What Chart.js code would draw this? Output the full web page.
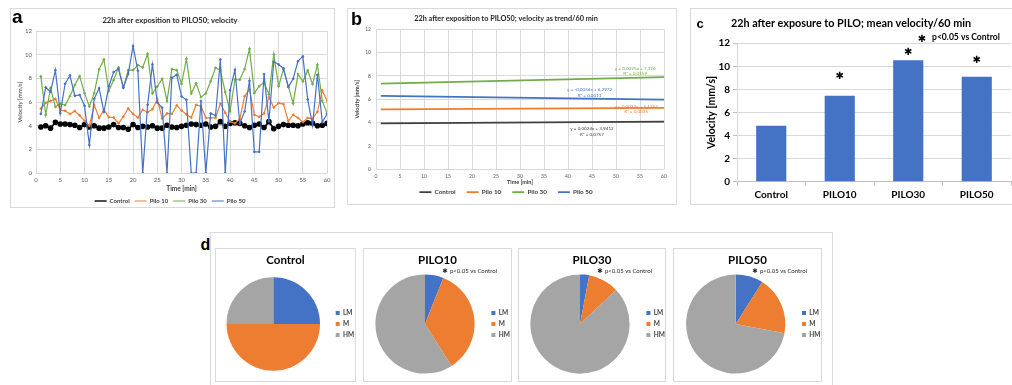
<!DOCTYPE html>
<html>
<head>
<meta charset="utf-8">
<script src="https://cdn.jsdelivr.net/npm/chart.js@4.4.0/dist/chart.umd.min.js"></script>
<style>
  body { margin: 0; width: 1012px; height: 385px; overflow: hidden; background: #fff; position: relative; }
  .box { position: absolute; border: 1px solid #d9d9d9; box-sizing: border-box; background: #fff; }
  .box canvas { position: absolute; left: 0; top: 0; }
  .tag { position: absolute; font-family: "Liberation Sans", Arial, sans-serif; font-weight: bold; line-height: 1; color: #000; }
</style>
</head>
<body>

<div class="box" style="left:210px;top:232px;width:623px;height:170px"></div>

<div class="box" style="left:10px;top:8px;width:325px;height:200px"><canvas id="chartA" width="323" height="198"></canvas></div>
<div class="box" style="left:347px;top:8px;width:330px;height:197px"><canvas id="chartB" width="328" height="195"></canvas></div>
<div class="box" style="left:690px;top:8px;width:332px;height:197px"><canvas id="chartC" width="330" height="195"></canvas></div>

<div class="box" style="left:215px;top:248px;width:141px;height:134px"><canvas id="pieControl" width="139" height="132"></canvas></div>
<div class="box" style="left:363px;top:248px;width:149px;height:134px"><canvas id="pie10" width="147" height="132"></canvas></div>
<div class="box" style="left:518px;top:248px;width:148px;height:134px"><canvas id="pie30" width="146" height="132"></canvas></div>
<div class="box" style="left:673px;top:248px;width:149px;height:134px"><canvas id="pie50" width="147" height="132"></canvas></div>

<span class="tag" style="left:12px;top:7px;font-size:19px">a</span>
<span class="tag" style="left:351px;top:9.5px;font-size:18px">b</span>
<span class="tag" style="left:696.5px;top:16.5px;font-size:13px">c</span>
<span class="tag" style="left:200.5px;top:236.5px;font-size:16px">d</span>

<script>
// ---- panel a: velocity per minute ----
const minutes = [1, 2, 3, 4, 5, 6, 7, 8, 9, 10, 11, 12, 13, 14, 15, 16, 17, 18, 19, 20,
  21, 22, 23, 24, 25, 26, 27, 28, 29, 30, 31, 32, 33, 34, 35, 36, 37, 38, 39, 40,
  41, 42, 43, 44, 45, 46, 47, 48, 49, 50, 51, 52, 53, 54, 55, 56, 57, 58, 59, 60];
const controlVel = [3.9, 4.0, 3.8, 4.3, 4.15, 4.15, 4.1, 4.05, 3.85, 4.1, 3.9, 4.0, 3.8, 3.8, 3.9, 4.1, 3.85, 3.85, 3.7, 4.1,
  3.85, 3.95, 3.9, 4.0, 3.8, 3.8, 4.05, 3.9, 3.85, 3.95, 4.05, 4.15, 4.1, 4.05, 4.15, 3.9, 3.95, 4.35, 3.95, 4.2,
  4.25, 4.2, 4.0, 3.85, 4.05, 4.15, 3.85, 4.35, 3.75, 3.95, 4.1, 4.05, 4.05, 4.0, 4.15, 4.25, 4.2, 4.0, 4.05, 4.2];
const pilo10Vel = [5.46, 5.94, 6.1, 6.28, 5.3, 5.27, 5.0, 5.25, 4.87, 4.42, 4.0, 5.75, 4.67, 5.35, 4.73, 4.7, 4.22, 4.76, 5.46, 5.0,
  4.7, 5.35, 5.15, 5.4, 6.25, 4.62, 5.04, 5.0, 5.72, 5.3, 4.96, 4.7, 5.77, 5.66, 4.67, 4.67, 4.67, 5.88, 5.1, 4.34,
  4.2, 4.56, 6.5, 7.07, 4.93, 4.76, 5.04, 6.42, 5.55, 5.92, 5.83, 4.4, 4.93, 4.67, 4.31, 4.67, 4.6, 5.18, 7.0, 6.1];
const pilo30Vel = [8.17, 4.93, 7.18, 5.6, 5.86, 5.75, 6.5, 7.44, 8.2, 6.76, 5.63, 6.76, 8.76, 9.6, 6.93, 7.86, 8.93, 7.2, 8.7, 8.7,
  9.13, 8.93, 10.08, 6.73, 7.32, 7.97, 6.1, 8.79, 8.7, 7.55, 9.66, 6.73, 7.58, 6.42, 6.73, 7.77, 8.9, 8.7, 6.85, 5.24,
  7.89, 7.89, 8.79, 10.5, 6.76, 7.35, 7.66, 6.65, 10.03, 7.35, 8.79, 7.35, 5.89, 8.37, 7.75, 8.68, 7.52, 9.15, 6.1, 5.04];
const pilo50Vel = [5.0, 7.24, 6.87, 8.7, 5.07, 7.55, 8.25, 6.54, 6.6, 5.69, 2.37, 6.28, 7.18, 5.18, 7.32, 8.54, 8.82, 7.24, 8.37, 10.73,
  8.65, 0, 5.77, 9.18, 5.97, 5.52, 0, 8.06, 8.31, 6.48, 6.2, 0, 0, 6.1, 0, 5.04, 4.87, 9.6, 0, 7.01,
  8.73, 4.17, 5.21, 7.8, 1.8, 1.8, 8.37, 4.37, 9.41, 9.18, 8.85, 7.27, 7.97, 9.46, 9.86, 6.23, 4.03, 8.31, 4.31, 5.0];

// ---- panel b: linear trends (values at minute 1 and 60) ----
const trendMinutes = [1, 60];
const controlTrend = [3.94, 4.09];
const pilo10Trend = [5.13, 5.26];
const pilo30Trend = [7.34, 7.90];
const pilo50Trend = [6.29, 5.97];
const trendEquations = ['y = 0,0024x + 3,9412', 'y = 0,0023x + 5,1257', 'y = 0,0095x + 7,326', 'y = -0,0054x + 6,2972'];
const trendR2 = ['R² = 0,0757', 'R² = 0,0035', 'R² = 0,0159', 'R² = 0,0011'];

// ---- panel c: mean velocity ----
const groups = ['Control', 'PILO10', 'PILO30', 'PILO50'];
const meanVelocity = [4.85, 7.46, 10.52, 9.1];
const significant = [false, true, true, true];

// ---- panel d: movement classes ----
const pieLabels = ['LM', 'M', 'HM'];
const controlShare = [25, 50, 25];
const pilo10Share = [6, 35, 59];
const pilo30Share = [3, 10, 87];
const pilo50Share = [9, 19, 72];

const seriesNames = ['Control', 'Pilo 10', 'Pilo 30', 'Pilo 50'];
const seriesColors = ['#000000', '#ED7D31', '#70AD47', '#4472C4'];
const pieColors = ['#4472C4', '#ED7D31', '#A5A5A5'];

Chart.defaults.font.family = 'Lato';
Chart.defaults.color = '#595959';

// panel a
new Chart(document.getElementById('chartA'), {
  type: 'line',
  data: {
    labels: minutes,
    datasets: [controlVel, pilo10Vel, pilo30Vel, pilo50Vel].map((vals, i) => ({
      label: seriesNames[i],
      data: vals,
      borderColor: seriesColors[i],
      backgroundColor: seriesColors[i],
      borderWidth: i === 0 ? 1.6 : 1.2,
      pointRadius: i === 0 ? 2.1 : 0.9,
      pointBorderWidth: i === 0 ? 1.4 : 1,
      order: 4 - i
    }))
  },
  options: {
    responsive: false,
    animation: false,
    layout: { padding: { left: 0, right: 5, top: 0, bottom: 2 } },
    plugins: {
      title: {
        display: true, text: '22h after exposition to PILO50; velocity', color: '#262626',
        font: { size: 7.6, weight: 'bold' }, padding: { top: 7, bottom: 6 }
      },
      legend: {
        position: 'bottom', maxHeight: 12,
        labels: { usePointStyle: true, pointStyle: 'line', pointStyleWidth: 12, padding: 5, color: '#404040',
          font: { size: 6, weight: 'bold' }, sort: (a, b) => a.datasetIndex - b.datasetIndex }
      },
      tooltip: { enabled: false }
    },
    scales: {
      x: {
        type: 'linear', min: 0, max: 60,
        ticks: { stepSize: 5, padding: 3.4, font: { size: 6 } },
        grid: { color: '#d9d9d9', drawTicks: false },
        border: { display: false },
        title: { display: true, text: 'Time [min]', color: '#404040', font: { size: 6.5, weight: 'bold' }, padding: 0 },
        afterFit: s => { s.height = 19.9; }
      },
      y: {
        min: 0, max: 12,
        ticks: { stepSize: 2, padding: 4, font: { size: 6 } },
        grid: { color: '#d9d9d9', drawTicks: false },
        border: { display: false },
        title: { display: true, text: 'Velocity [mm/s]', color: '#404040', font: { size: 6 }, padding: { top: 5, bottom: 0 } },
        afterFit: s => { s.width = 25; }
      }
    }
  }
});

// panel b: equations next to the trend lines
const notePos = [
  { x: 45, y: [3.48, 2.94] },
  { x: 54.2, y: [5.42, 4.94] },
  { x: 54, y: [8.65, 8.17] },
  { x: 44.5, y: [6.82, 6.31] }
];
const trendLabelPlugin = {
  id: 'trendLabels',
  afterDatasetsDraw(chart) {
    const { ctx, scales: { x, y } } = chart;
    ctx.save();
    ctx.font = '4.6px Lato';
    ctx.textAlign = 'center';
    ctx.textBaseline = 'middle';
    notePos.forEach((p, i) => {
      ctx.fillStyle = i === 0 ? '#404040' : seriesColors[i];
      ctx.fillText(trendEquations[i], x.getPixelForValue(p.x), y.getPixelForValue(p.y[0]));
      ctx.fillText(trendR2[i], x.getPixelForValue(p.x), y.getPixelForValue(p.y[1]));
    });
    ctx.restore();
  }
};

new Chart(document.getElementById('chartB'), {
  type: 'line',
  data: {
    labels: trendMinutes,
    datasets: [controlTrend, pilo10Trend, pilo30Trend, pilo50Trend].map((vals, i) => ({
      label: seriesNames[i],
      data: vals,
      borderColor: i === 0 ? '#404040' : seriesColors[i],
      backgroundColor: i === 0 ? '#404040' : seriesColors[i],
      borderWidth: 1.8,
      pointRadius: 0
    }))
  },
  options: {
    responsive: false,
    animation: false,
    layout: { padding: { left: 0, right: 12, top: 0, bottom: 0 } },
    plugins: {
      title: {
        display: true, text: '22h after exposition to PILO50; velocity as trend/60 min', color: '#262626',
        font: { size: 7.3, weight: 'bold' }, padding: { top: 5.6, bottom: 5.9 }
      },
      legend: {
        position: 'bottom', maxHeight: 26,
        labels: { usePointStyle: true, pointStyle: 'line', pointStyleWidth: 12, padding: 11, color: '#404040',
          font: { size: 6.3, weight: 'bold' } }
      },
      tooltip: { enabled: false }
    },
    scales: {
      x: {
        type: 'linear', min: 0, max: 60,
        ticks: { stepSize: 5, padding: 4, font: { size: 5 } },
        grid: { color: '#d9d9d9', drawTicks: false },
        border: { display: false },
        title: { display: true, text: 'Time [min]', color: '#404040', font: { size: 5.5, weight: 'bold' }, padding: { top: 0, bottom: -8 } },
        afterFit: s => { s.height = 8.7; }
      },
      y: {
        min: 0, max: 12,
        ticks: { stepSize: 2, padding: 5, font: { size: 5 } },
        grid: { color: '#d9d9d9', drawTicks: false },
        border: { display: false },
        title: { display: true, text: 'Velocity [mm/s]', color: '#404040', font: { size: 5.5, weight: 'bold' }, padding: { top: 6, bottom: 0 } },
        afterFit: s => { s.width = 28; }
      }
    }
  },
  plugins: [trendLabelPlugin]
});

// panel c
const starY = [0, 9.1, 11.2, 10.5];
const starPlugin = {
  id: 'stars',
  afterDatasetsDraw(chart) {
    const { ctx, scales: { y } } = chart;
    const bars = chart.getDatasetMeta(0).data;
    ctx.save();
    ctx.fillStyle = '#000';
    ctx.textAlign = 'center';
    ctx.textBaseline = 'middle';
    ctx.font = '10px "DejaVu Sans"';
    bars.forEach((bar, i) => {
      if (significant[i]) ctx.fillText('✱', bar.x, y.getPixelForValue(starY[i]));
    });
    ctx.fillText('✱', 231, 30);
    ctx.textAlign = 'left';
    ctx.font = 'bold 8.6px Lato';
    ctx.fillText('p<0.05 vs Control', 241, 28);
    ctx.restore();
  }
};

new Chart(document.getElementById('chartC'), {
  type: 'bar',
  data: {
    labels: groups,
    datasets: [{ data: meanVelocity, backgroundColor: '#4472C4', barPercentage: 0.44, categoryPercentage: 1 }]
  },
  options: {
    responsive: false,
    animation: false,
    layout: { padding: { left: 0, right: 10, top: 0, bottom: 0 } },
    plugins: {
      title: {
        display: true, text: '22h after exposure to PILO; mean velocity/60 min', color: '#000',
        font: { size: 10.8, weight: 'bold' }, padding: { top: 8.5, bottom: 12.8 }
      },
      legend: { display: false },
      tooltip: { enabled: false }
    },
    scales: {
      x: {
        ticks: { color: '#000', padding: 3, font: { size: 10, weight: 'bold' } },
        grid: { drawOnChartArea: false, tickLength: 4, color: '#bfbfbf' },
        border: { color: '#bfbfbf' },
        afterFit: s => { s.height = 22.3; }
      },
      y: {
        min: 0, max: 12,
        ticks: { stepSize: 2, color: '#000', padding: 3, font: { size: 10, weight: 'bold' } },
        grid: { color: '#d9d9d9', tickLength: 4, tickColor: '#bfbfbf' },
        border: { color: '#d9d9d9' },
        title: { display: true, text: 'Velocity [mm/s]', color: '#000', font: { size: 10.5, weight: 'bold' }, padding: { top: 14, bottom: 0 } },
        afterFit: s => { s.width = 46; }
      }
    }
  },
  plugins: [starPlugin]
});

// panel d
const sigNotePlugin = {
  id: 'sigNote',
  afterDraw(chart, args, opts) {
    if (!opts.show) return;
    const ctx = chart.ctx;
    ctx.save();
    ctx.fillStyle = '#262626';
    ctx.textBaseline = 'middle';
    ctx.textAlign = 'center';
    ctx.font = '6.5px "DejaVu Sans"';
    ctx.fillText('✱', 81, 22.5);
    ctx.textAlign = 'left';
    ctx.font = '6px Lato';
    ctx.fillText('p<0.05 vs Control', 86, 22.5);
    ctx.restore();
  }
};

// the right-hand legend carries a fixed 10px margin; move it and the pie to where the original has them
const pieLayoutPlugin = {
  id: 'pieLayout',
  afterLayout(chart, args, opts) {
    const lg = chart.legend;
    const dx = opts.boxX - (lg.left + lg.options.labels.padding);
    lg.left += dx;
    lg.right += dx;
    const area = chart.chartArea;
    const shift = opts.centerX - (area.left + area.right) / 2;
    area.left += shift;
    area.right += shift;
  }
};

function makePie(id, title, shares, radius, withNote, boxX, centerX) {
  return new Chart(document.getElementById(id), {
    type: 'pie',
    data: {
      labels: pieLabels,
      datasets: [{ data: shares, backgroundColor: pieColors, borderWidth: 0, radius: radius }]
    },
    options: {
      responsive: false,
      animation: false,
      layout: { padding: { left: 0, right: 0, top: 0, bottom: 8.2 } },
      plugins: {
        title: { display: true, text: title, color: '#000', font: { size: 11.5, weight: 'bold' }, padding: { top: 4.8, bottom: 7.6 } },
        legend: {
          position: 'right', fullSize: false,
          labels: { boxWidth: 4, boxHeight: 4, padding: 4.5, color: '#404040', font: { size: 6.5, weight: 'bold' } }
        },
        tooltip: { enabled: false },
        sigNote: { show: withNote },
        pieLayout: { boxX: boxX, centerX: centerX }
      }
    },
    plugins: [sigNotePlugin, pieLayoutPlugin]
  });
}

makePie('pieControl', 'Control', controlShare, 46.7, false, 119.7, 57.3);
makePie('pie10', 'PILO10', pilo10Share, 49.6, true, 127.4, 61);
makePie('pie30', 'PILO30', pilo30Share, 49.6, true, 127.4, 61);
makePie('pie50', 'PILO50', pilo50Share, 49.6, true, 128, 61.7);
</script>
</body>
</html>
